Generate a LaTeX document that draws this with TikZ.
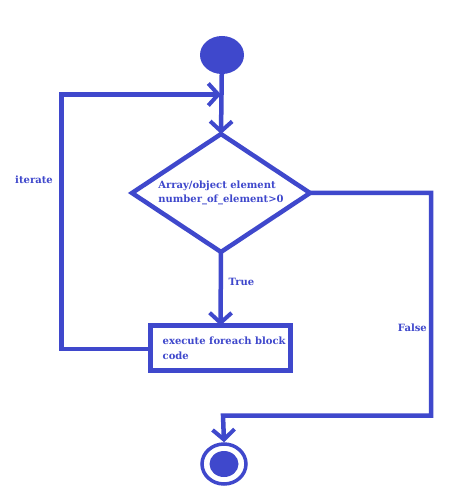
\documentclass[tikz,border=0pt]{standalone}
\usepackage{fontspec}
\setmainfont{DejaVu Serif}
\usetikzlibrary{arrows.meta,shapes.geometric}
\definecolor{ink}{HTML}{3F48CC}
\tikzset{
  flow/.style={draw=ink, line width=4.5pt},
  arr/.style={flow, -{Straight Barb[length=10pt,width=22pt,line width=4pt]}},
  lbl/.style={text=ink, font=\bfseries\fontsize{10}{14.5}\selectfont, inner sep=0pt},
}
\begin{document}
\begin{tikzpicture}[x=1pt,y=-1pt]
\useasboundingbox[fill=white] (0,0) rectangle (454,502);
% start
\node[ellipse, fill=ink, minimum width=44pt, minimum height=38pt, inner sep=0pt] (start) at (222,55) {};
% decision
\node[flow, diamond, aspect=1.5, minimum width=178pt, minimum height=118pt, inner sep=0pt, outer sep=0pt,
      lbl, align=left] (dia) at (221,193) {Array/object element\\number\_of\_element>0};
% action box
\node[flow, rectangle, minimum width=140pt, minimum height=45pt, inner sep=0pt, outer sep=0pt] (box) at (220.5,348) {};
\node[lbl, align=left, anchor=west] (boxtext) at (162.5,348.5) {execute foreach block\\code};
% end
\node[ellipse, draw=ink, line width=3.5pt, minimum width=44pt, minimum height=40pt, inner sep=0pt] (end) at (224,464) {};
\node[ellipse, fill=ink, minimum width=29pt, minimum height=26pt, inner sep=0pt] (endin) at (224,464) {};
% coordinates
\coordinate (join) at (221,94.5);
\coordinate (ltop) at (61.5,94.5);
\coordinate (rb) at (431,415.5);
\coordinate (eb) at (223,415.5);
% connectors
\draw[arr] (start) -- (dia.north);
\draw[arr] (dia.south) -- (box.north);
\draw[arr] (box.west |- 0,349) -| (ltop) -- (join);
\draw[arr] (dia.east) -| (rb) -- (eb) -- (end.north);
% labels
\node[lbl] (true) at (241.5,281.5) {True};
\node[lbl] (iter) at (34,180) {iterate};
\node[lbl, anchor=east] (false) at (427,327.5) {False};
\end{tikzpicture}
\end{document}
